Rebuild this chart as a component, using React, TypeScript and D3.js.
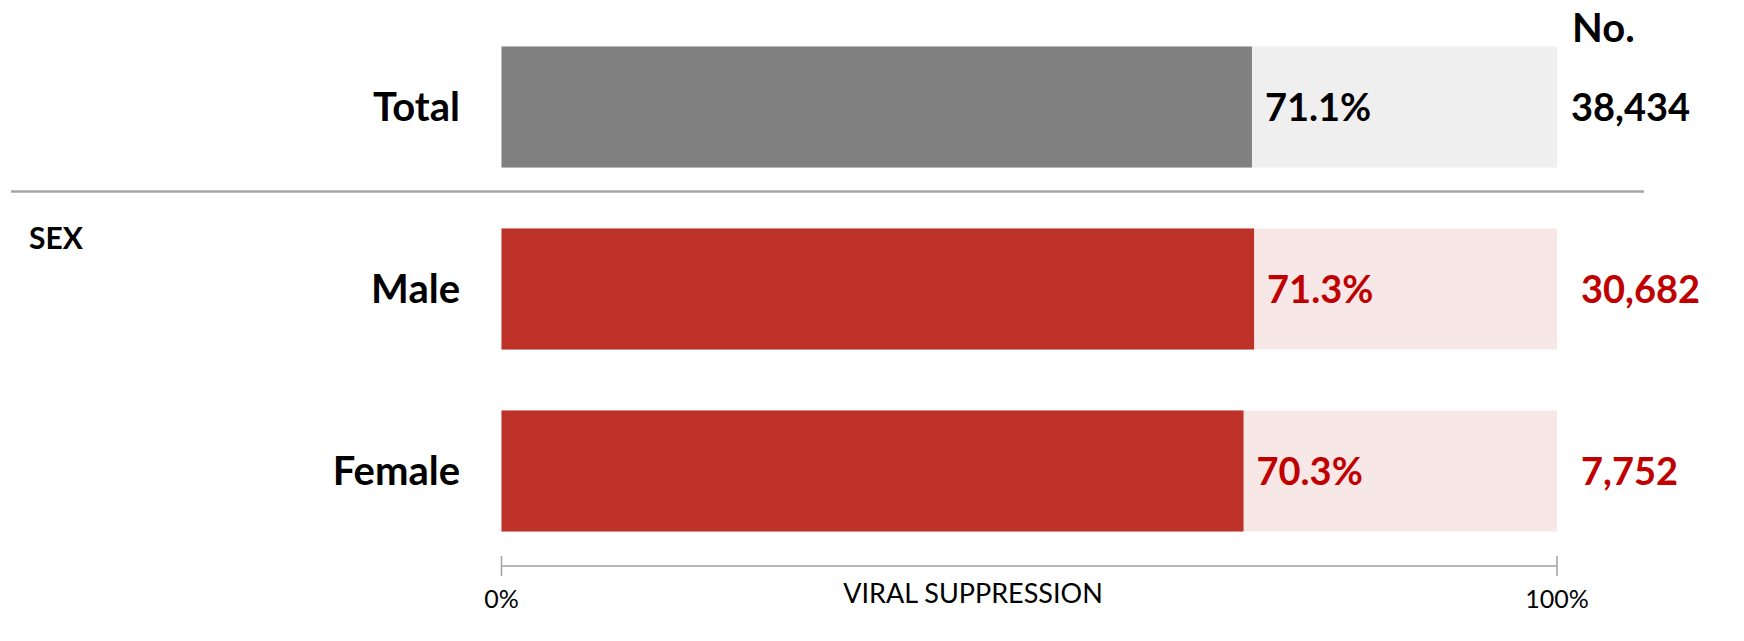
import React from "react";
import * as d3 from "d3";

const categories = ["Total", "Male", "Female"];
const groups = ["total", "sex", "sex"];
const suppression = [71.1, 71.3, 70.3];
const counts = [38434, 30682, 7752];
const xTicks = [0, 100];
const axisTitle = "VIRAL SUPPRESSION";
const sectionLabel = "SEX";
const countHeader = "No.";

const W = 1744;
const H = 641;
const FONT = "Lato, 'Open Sans', sans-serif";

const styles: Record<string, { dark: string; light: string; text: string; numX: number }> = {
  total: { dark: "#808080", light: "#EFEFEF", text: "#000000", numX: 1571 },
  sex: { dark: "#BE3128", light: "#F7E7E6", text: "#C00000", numX: 1581 },
};

export default function App() {
  const x = d3.scaleLinear().domain([0, 100]).range([501.5, 1557]);
  const y = d3
    .scaleBand<string>()
    .domain(categories)
    .range([46.5, 531.5])
    .paddingInner(0.335)
    .paddingOuter(0);
  const bw = y.bandwidth();
  const fmt = d3.format(",");
  const axisY = 566;

  return (
    <div style={{ position: "fixed", left: 0, top: 0 }}>
      <svg width={W} height={H} style={{ display: "block", background: "#fff" }}>
        {categories.map((c, i) => {
          const st = styles[groups[i]];
          const y0 = y(c)!;
          const cy = y0 + bw / 2;
          return (
            <g key={c}>
              <rect x={x(0)} y={y0} width={x(100) - x(0)} height={bw} fill={st.light} />
              <rect x={x(0)} y={y0} width={x(suppression[i]) - x(0)} height={bw} fill={st.dark} />
              <text
                x={460}
                y={cy}
                dy="0.36em"
                textAnchor="end"
                fontFamily={FONT}
                fontWeight={700}
                fontSize={40}
                fill="#000"
              >
                {c}
              </text>
              <text
                x={x(suppression[i]) + 13}
                y={cy}
                dy="0.36em"
                fontFamily={FONT}
                fontWeight={700}
                fontSize={38}
                fill={st.text}
              >
                {suppression[i].toFixed(1) + "%"}
              </text>
              <text
                x={st.numX}
                y={cy}
                dy="0.36em"
                fontFamily={FONT}
                fontWeight={700}
                fontSize={38}
                fill={st.text}
              >
                {fmt(counts[i])}
              </text>
            </g>
          );
        })}
        <text x={1572} y={42} fontFamily={FONT} fontWeight={700} fontSize={40} fill="#000">
          {countHeader}
        </text>
        <line x1={11} x2={1644} y1={191.5} y2={191.5} stroke="#A6A6A6" strokeWidth={2.5} />
        <text x={29} y={249} fontFamily={FONT} fontWeight={700} fontSize={30} fill="#000">
          {sectionLabel}
        </text>
        <line x1={x(0)} x2={x(100)} y1={axisY} y2={axisY} stroke="#A0A0A0" strokeWidth={1.5} />
        {xTicks.map((t) => (
          <g key={t}>
            <line x1={x(t)} x2={x(t)} y1={556} y2={576} stroke="#A0A0A0" strokeWidth={1.5} />
            <text
              x={x(t)}
              y={608}
              textAnchor="middle"
              fontFamily={FONT}
              fontSize={25}
              fill="#000"
            >
              {t + "%"}
            </text>
          </g>
        ))}
        <text
          x={973}
          y={603}
          textAnchor="middle"
          fontFamily={FONT}
          fontSize={27}
          fill="#000"
        >
          {axisTitle}
        </text>
      </svg>
    </div>
  );
}
